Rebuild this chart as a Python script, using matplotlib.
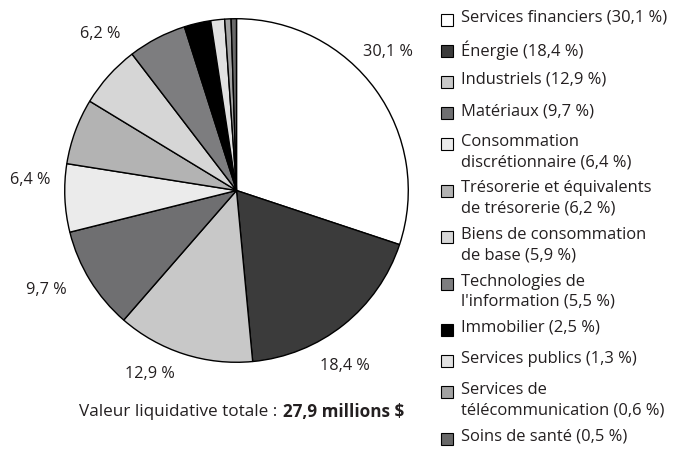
import matplotlib.pyplot as plt
from matplotlib.patches import Rectangle

plt.rcParams['font.family'] = ['Open Sans', 'DejaVu Sans']

sectors = ['Services financiers', 'Énergie', 'Industriels', 'Matériaux',
           'Consommation\ndiscrétionnaire', 'Trésorerie et équivalents\nde trésorerie',
           'Biens de consommation\nde base', 'Technologies de\nl\'information',
           'Immobilier', 'Services publics', 'Services de\ntélécommunication',
           'Soins de santé']
weights = [30.1, 18.4, 12.9, 9.7, 6.4, 6.2, 5.9, 5.5, 2.5, 1.3, 0.6, 0.5]
colors = ['#ffffff', '#3b3b3b', '#c8c8c8', '#6f6f71', '#ebebeb', '#b3b3b3',
          '#d6d6d6', '#7d7d7f', '#000000', '#e1e1e1', '#a2a2a2', '#686868']
# slices that get an outside label, with where the label sits (pixels)
label_pos = {0: (388, 52), 1: (345, 366), 2: (150, 374), 3: (46, 290),
             4: (30, 180), 5: (100, 34)}
total = '27,9 millions $'

W, H = 680, 451
fig = plt.figure(figsize=(W / 100, H / 100), dpi=100)
cx, cy, r = 236.5, 190.5, 173.5
ax = fig.add_axes([(cx - r) / W, (H - cy - r) / H, 2 * r / W, 2 * r / H])
ax.pie(weights, colors=colors, startangle=90, counterclock=False, radius=1,
       wedgeprops=dict(edgecolor='black', linewidth=1.0))
ax.set_xlim(-1.01, 1.01)
ax.set_ylim(-1.01, 1.01)
ax.set_aspect('equal')

txt = '#231f20'
fs = 11.9
for i, (x, y) in label_pos.items():
    fig.text(x / W, 1 - y / H, f'{weights[i]:.1f} %'.replace('.', ','),
             ha='center', va='center', fontsize=11.7, color=txt)

fig.text(282 / W, 1 - 412 / H, 'Valeur liquidative totale : ', ha='right',
         va='center', fontsize=12.3, color=txt)
fig.text(283 / W, 1 - 412 / H, total, ha='left', va='center', fontsize=12.3,
         color=txt, fontweight='bold')

# legend
y = 20
for name, w, c in zip(sectors, weights, colors):
    fig.patches.append(Rectangle((441 / W, 1 - (y + 6) / H), 12 / W, 12 / H,
                                 transform=fig.transFigure, facecolor=c,
                                 edgecolor='black', linewidth=0.8))
    label = f'{name} ({w:.1f} %)'.replace('.', ',')
    fig.text(461 / W, 1 - (y - 10) / H, label, ha='left', va='top',
             fontsize=fs, color=txt, linespacing=1.35)
    y += 31 + 15.5 * name.count('\n')

fig.savefig('out.png', dpi=100)
